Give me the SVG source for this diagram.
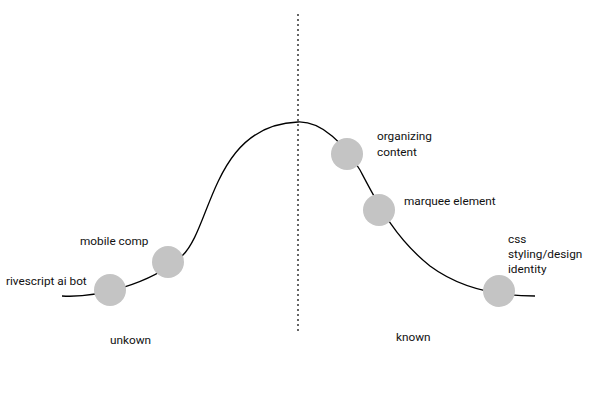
<svg xmlns="http://www.w3.org/2000/svg" width="596" height="420" viewBox="0 0 596 420">
<style>
text{font-family:Roboto,"Liberation Sans",sans-serif;font-size:11.8px;fill:#111}
.n circle{fill:#c4c4c4}
</style>
<rect width="596" height="420" fill="#fff"/>
<g id="connectors" fill="none" stroke="#000">
<line x1="298" y1="14" x2="298" y2="334" stroke-width="1.2" stroke-dasharray="2,3"/>
<path d="M62,296 C95,298 150,285 182,256 C212,228 212,125 298,122 C322,121 345,145 360,170 C380,208 395,238 430,266 C465,292 505,296 535,296" stroke-width="1.3"/>
</g>
<g id="n1" class="n"><circle cx="110" cy="290" r="16"/><text x="6" y="285">rivescript ai bot</text></g>
<g id="n2" class="n"><circle cx="168" cy="262" r="16"/><text x="80" y="245">mobile comp</text></g>
<g id="n3" class="n"><circle cx="347" cy="154" r="16"/><text x="377" y="140">organizing</text><text x="377" y="156">content</text></g>
<g id="n4" class="n"><circle cx="379" cy="210" r="16"/><text x="404" y="205">marquee element</text></g>
<g id="n5" class="n"><circle cx="499" cy="291" r="16"/><text x="508" y="243">css</text><text x="508" y="258">styling/design</text><text x="508" y="273">identity</text></g>
<text x="110" y="344">unkown</text>
<text x="396" y="341">known</text>
</svg>
